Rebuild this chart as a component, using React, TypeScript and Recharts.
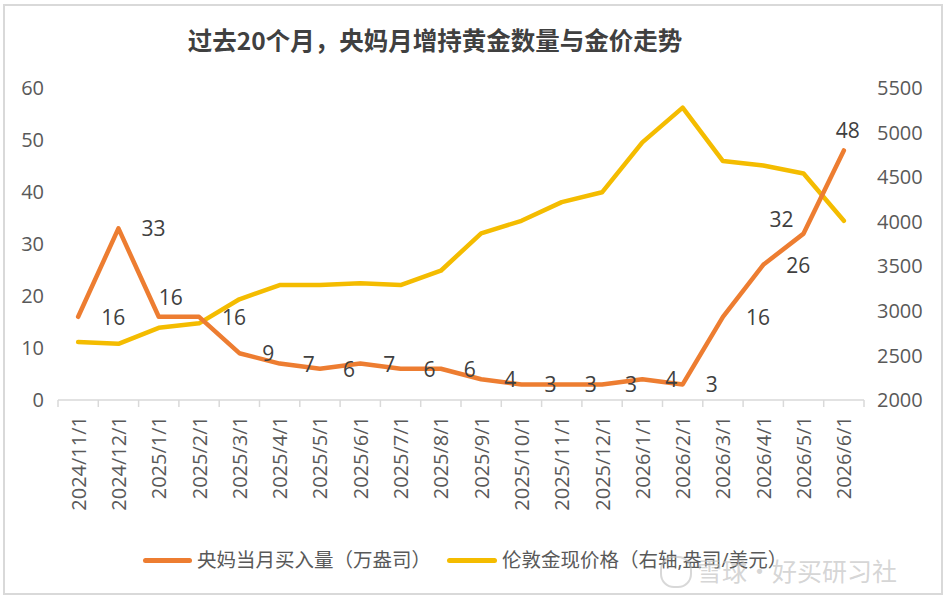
import React from 'react';
import { ComposedChart, Line, XAxis, YAxis } from 'recharts';

// 过去20个月 央妈增持黄金 vs 伦敦金价
const categories = [
  '2024/11/1', '2024/12/1', '2025/1/1', '2025/2/1', '2025/3/1', '2025/4/1', '2025/5/1',
  '2025/6/1', '2025/7/1', '2025/8/1', '2025/9/1', '2025/10/1', '2025/11/1', '2025/12/1',
  '2026/1/1', '2026/2/1', '2026/3/1', '2026/4/1', '2026/5/1', '2026/6/1',
];
const pbocBuy = [16, 33, 16, 16, 9, 7, 6, 7, 6, 6, 4, 3, 3, 3, 4, 3, 16, 26, 32, 48];
const goldPrice = [
  2650, 2630, 2810, 2860, 3130, 3290, 3290, 3310, 3290, 3450,
  3870, 4010, 4220, 4330, 4890, 5280, 4680, 4630, 4540, 4010,
];
const leftTicks = [0, 10, 20, 30, 40, 50, 60];
const rightTicks = [2000, 2500, 3000, 3500, 4000, 4500, 5000, 5500];

const data = categories.map((day, i) => ({ day, buy: pbocBuy[i], price: goldPrice[i] }));

const W = 946;
const H = 599;
const LEFT_W = 58;
const RIGHT_W = 82;
const PLOT_W = W - LEFT_W - RIGHT_W;
const FONT = '"Open Sans", "Noto Sans CJK SC", sans-serif';
const TXT = '#595959';
const ORANGE = '#ED7D31';
const GOLD = '#F4BC00';
const AXIS = '#D9D9D9';

// hand-moved labels, like in the excel original
const nudge: Record<number, { dx: number; dy: number; anchor: 'start' | 'middle' | 'end' }> = {
  2: { dx: 0, dy: -20, anchor: 'start' },
  18: { dx: -34, dy: -15, anchor: 'start' },
  19: { dx: 4, dy: -20, anchor: 'middle' },
};

function CatTick(props: any) {
  const { x, y, payload, index } = props;
  const half = PLOT_W / categories.length / 2;
  const ty = y + 16;
  return (
    <g>
      <line x1={x - half} x2={x - half} y1={y} y2={y + 7} stroke={AXIS} strokeWidth={1.5} />
      {index === categories.length - 1 && (
        <line x1={x + half} x2={x + half} y1={y} y2={y + 7} stroke={AXIS} strokeWidth={1.5} />
      )}
      <text
        x={x}
        y={ty}
        transform={`rotate(-90 ${x} ${ty})`}
        textAnchor="end"
        dominantBaseline="central"
        fill={TXT}
        fontSize={20}
        fontFamily={FONT}
      >
        {payload.value}
      </text>
    </g>
  );
}

function BuyLabel(props: any) {
  const { x, y, value, index } = props;
  const n = nudge[index] || { dx: 23, dy: 0, anchor: 'start' };
  return (
    <text
      x={x + n.dx}
      y={y + n.dy}
      textAnchor={n.anchor}
      dominantBaseline="central"
      fill="#404040"
      fontSize={21}
      fontFamily={FONT}
    >
      {value}
    </text>
  );
}

export default function App() {
  return (
    <div style={{ position: 'absolute', left: 0, top: 0, width: W, height: H, background: '#fff', fontFamily: FONT }}>
      <div
        style={{
          position: 'absolute', left: 3, top: 4, width: 936, height: 587,
          border: `2px solid ${AXIS}`,
        }}
      />
      <div
        style={{
          position: 'absolute', left: 0, top: 24, width: 870, lineHeight: '32px',
          textAlign: 'center', fontSize: 24.5, fontWeight: 700, color: '#404040',
          fontFamily: '"Noto Sans CJK SC", sans-serif',
        }}
      >
        过去20个月，央妈月增持黄金数量与金价走势
      </div>
      <div style={{ position: 'absolute', left: 0, top: 0 }}>
        <ComposedChart width={W} height={H} data={data} margin={{ top: 88, right: 0, bottom: 69, left: 0 }}>
          <XAxis
            dataKey="day"
            scale="band"
            interval={0}
            height={130}
            stroke={AXIS}
            strokeWidth={1.5}
            tickLine={false}
            tickSize={0}
            tickMargin={0}
            tick={<CatTick />}
          />
          <YAxis
            yAxisId="left"
            domain={[0, 60]}
            ticks={leftTicks}
            width={LEFT_W}
            axisLine={false}
            tickLine={false}
            tickSize={6}
            tickMargin={8}
            tick={{ fill: TXT, fontSize: 20, fontFamily: FONT }}
          />
          <YAxis
            yAxisId="right"
            orientation="right"
            domain={[2000, 5500]}
            ticks={rightTicks}
            width={RIGHT_W}
            axisLine={false}
            tickLine={false}
            tickSize={6}
            tickMargin={7}
            tick={{ fill: TXT, fontSize: 20, fontFamily: FONT, textAnchor: 'start' }}
          />
          <Line
            yAxisId="right"
            dataKey="price"
            type="linear"
            stroke={GOLD}
            strokeWidth={4.5}
            strokeLinecap="round"
            strokeLinejoin="round"
            dot={false}
            isAnimationActive={false}
          />
          <Line
            yAxisId="left"
            dataKey="buy"
            type="linear"
            stroke={ORANGE}
            strokeWidth={4.5}
            strokeLinecap="round"
            strokeLinejoin="round"
            dot={false}
            label={<BuyLabel />}
            isAnimationActive={false}
          />
        </ComposedChart>
      </div>
      {/* legend */}
      <div style={{ position: 'absolute', left: 143, top: 558, width: 49, height: 5, borderRadius: 3, background: ORANGE }} />
      <div style={{ position: 'absolute', left: 197, top: 546, lineHeight: '28px', fontSize: 19.5, color: TXT }}>
        央妈当月买入量（万盎司）
      </div>
      <div style={{ position: 'absolute', left: 447, top: 558, width: 50, height: 5, borderRadius: 3, background: GOLD }} />
      <div style={{ position: 'absolute', left: 502, top: 546, lineHeight: '28px', fontSize: 19.5, color: TXT }}>
        伦敦金现价格（右轴,盎司/美元）
      </div>
      {/* watermark */}
      <div
        style={{
          position: 'absolute', left: 660, top: 556, width: 28, height: 28, borderRadius: 14,
          border: '2px solid rgba(190,190,190,0.6)',
        }}
      />
      <div
        style={{
          position: 'absolute', left: 697, top: 553, lineHeight: '34px', fontSize: 25,
          color: 'rgba(190,190,190,0.65)', fontFamily: '"Noto Sans CJK SC", sans-serif',
        }}
      >
        雪球·好买研习社
      </div>
    </div>
  );
}
